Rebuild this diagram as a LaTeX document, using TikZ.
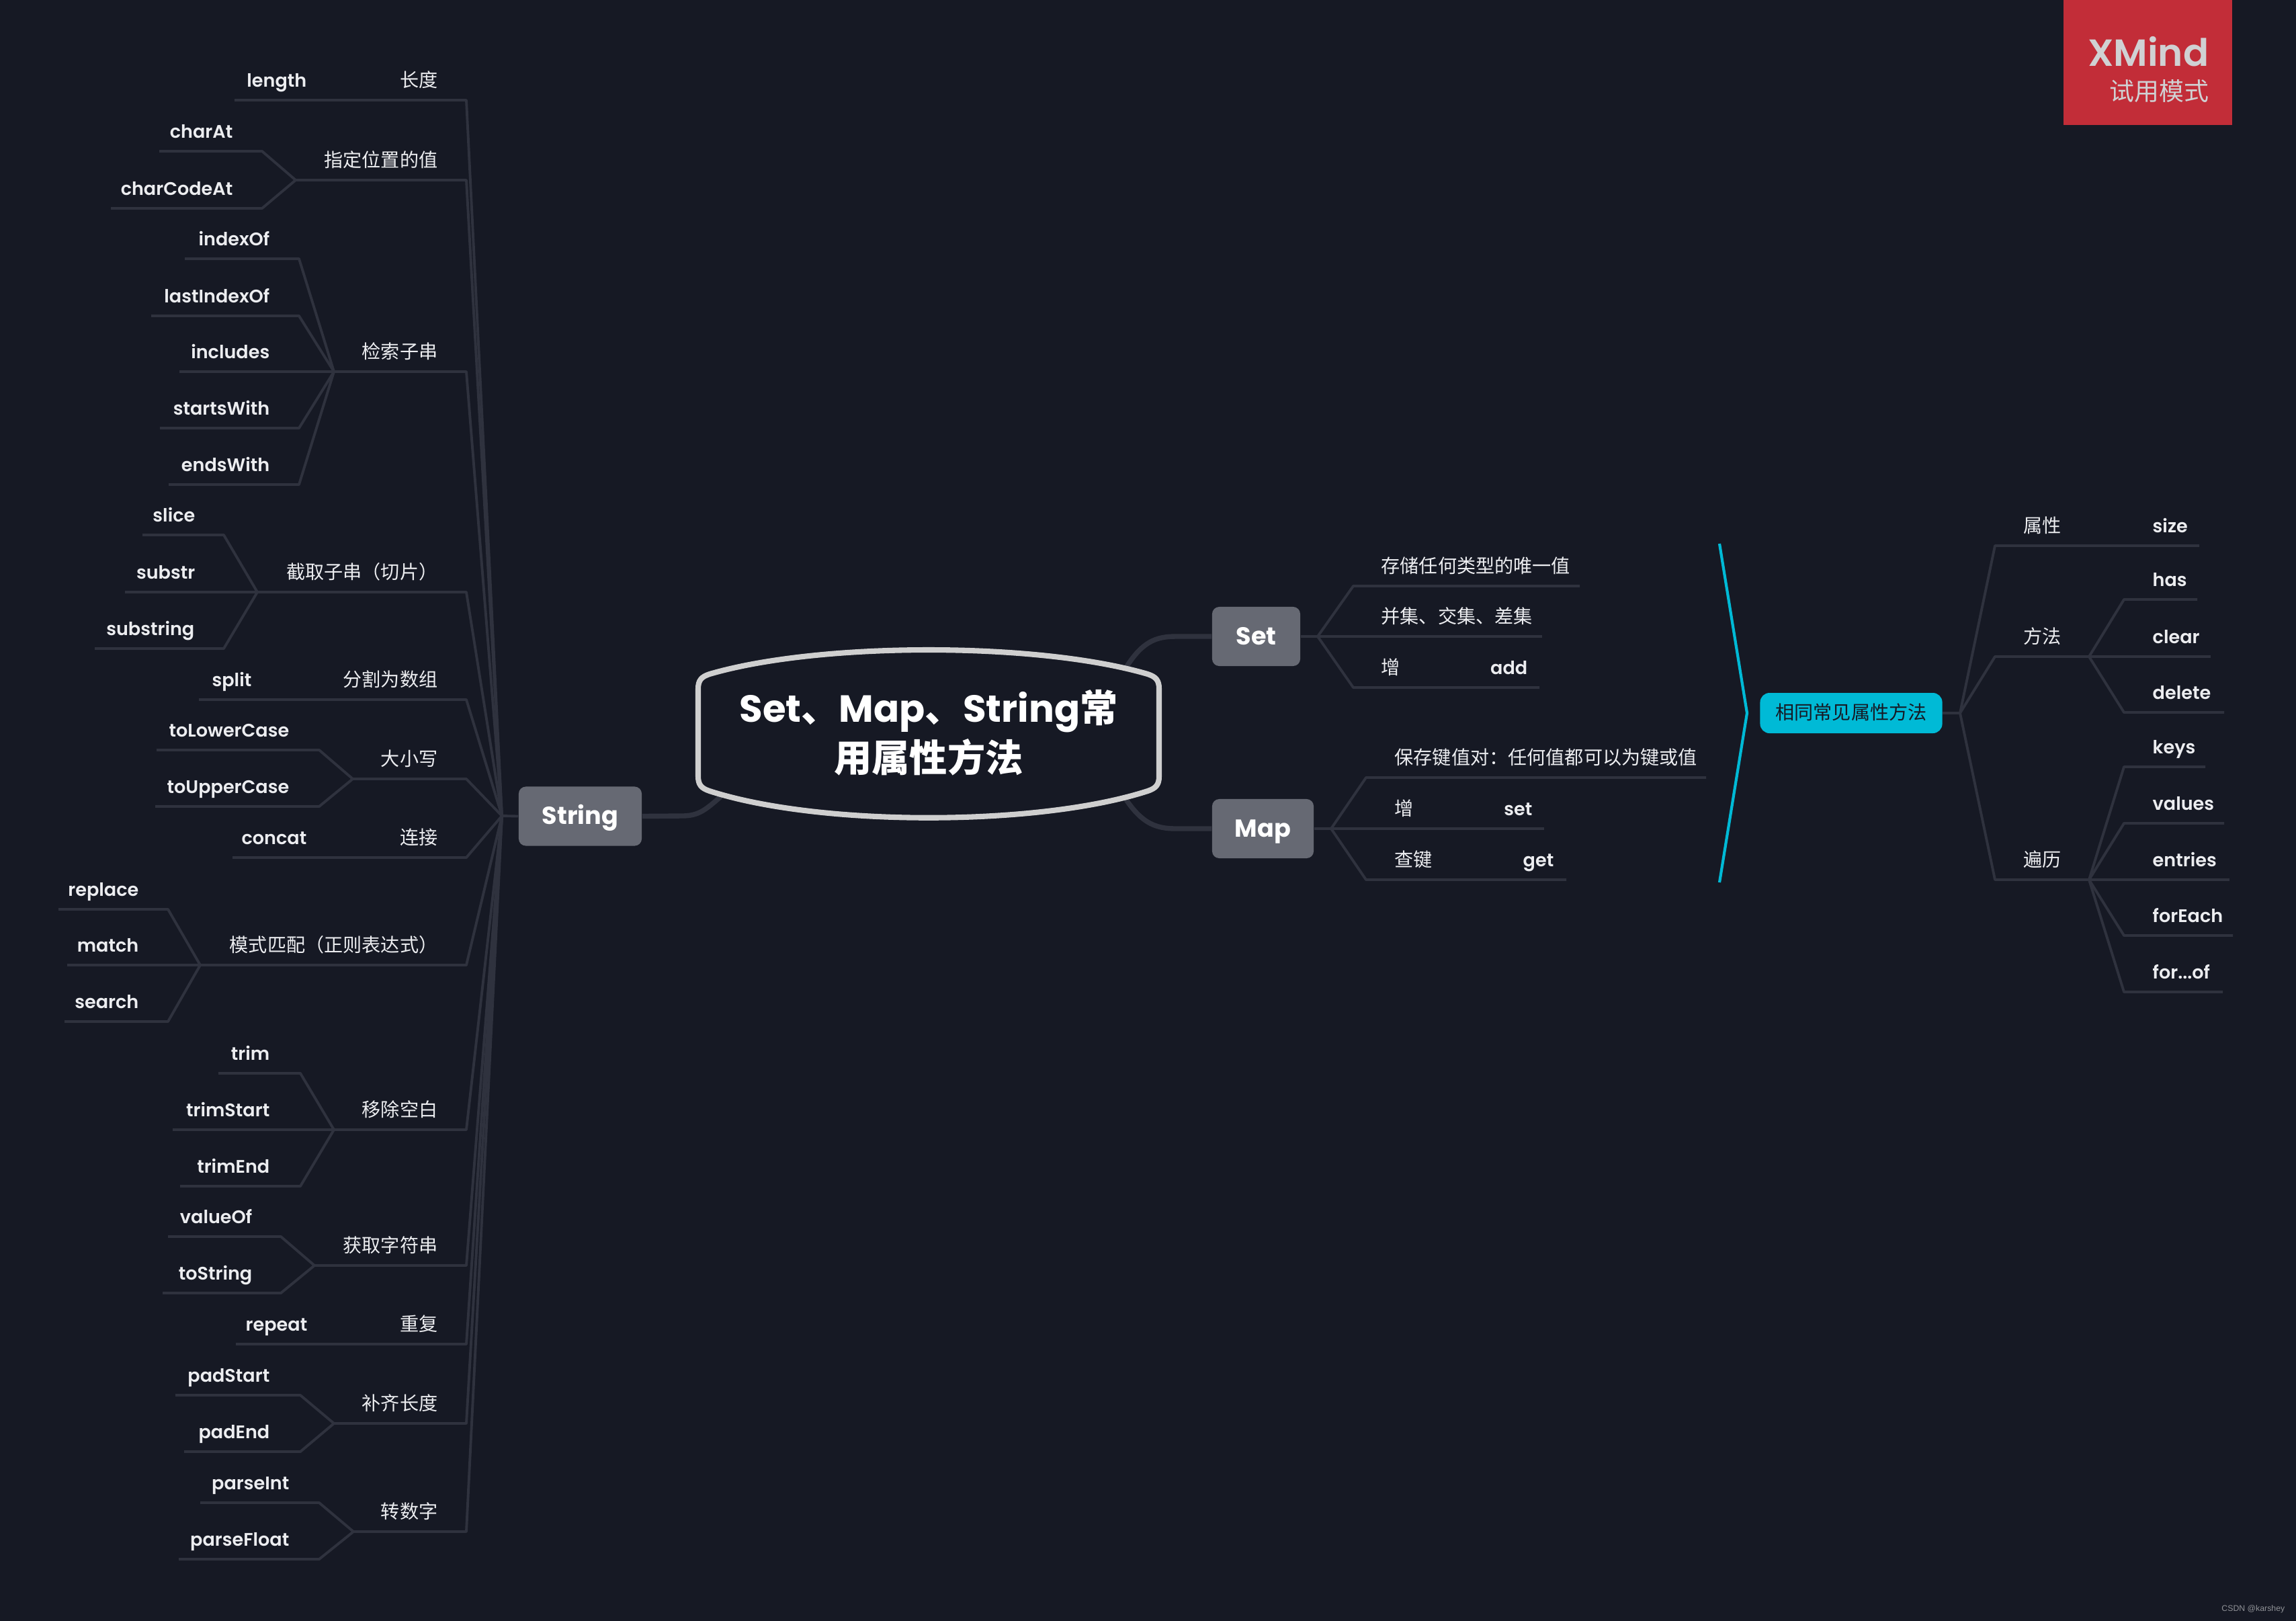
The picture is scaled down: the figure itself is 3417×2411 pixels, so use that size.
\documentclass[tikz,border=0pt]{standalone}
\usepackage{fontspec}
\usetikzlibrary{positioning, calc}
\newfontfamily\enfont{Poppins}[UprightFont=* SemiBold, BoldFont=* Bold]
\newfontfamily\cnfont{Noto Sans CJK SC}
\newfontfamily\markfont{Liberation Sans}
\definecolor{mapdark}{HTML}{161924}
\definecolor{mapline}{HTML}{2F323E}
\definecolor{mapbox}{HTML}{666973}
\definecolor{mapteal}{HTML}{00BAD6}
\definecolor{mapred}{HTML}{C22D38}
\definecolor{mapcentre}{HTML}{CFCFCF}
\definecolor{textwhite}{HTML}{ECEDF0}
\definecolor{marktext}{HTML}{D0D1D3}
\newcommand{\forof}{for...of}

\begin{document}
\begin{tikzpicture}[
    x=0.01cm, y=-0.01cm,
    en/.style={font=\enfont\fontsize{7.7}{10}\selectfont, text=textwhite, inner sep=0pt, text height=0.26cm, text depth=0.03cm},
    cn/.style={font=\cnfont\fontsize{8}{10}\selectfont, text=textwhite, inner sep=0pt, text height=0.26cm, text depth=0.03cm},
    branch/.style={draw=mapline, line width=1.1pt, line join=round},
    trunk/.style={draw=mapline, line width=2.1pt},
    topicbox/.style={fill=mapbox, rounded corners=3pt, text=white, inner sep=0pt, minimum height=0.88cm, text height=0.32cm, text depth=0.08cm,
                     font=\enfont\bfseries\fontsize{10.4}{12}\selectfont},
]

% Background
\useasboundingbox (0,0) rectangle (3417,2411);
\fill[mapdark] (-5,-5) rectangle (3422,2416);

% === Thick connectors from the centre ===
\coordinate (cString) at (1073,1185);
\coordinate (cSet) at (1676,993);
\coordinate (cMap) at (1676,1190);

\node[topicbox, minimum width=1.83cm] (String) at (863.5,1214.5) {String};
\node[topicbox, minimum width=1.31cm] (Set) at (1869.5,947) {Set};
\node[topicbox, minimum width=1.51cm] (Map) at (1879.5,1233) {Map};

\draw[trunk] (cString) .. controls (1050,1205) and (1040,1214) .. (1015,1214) -- (String.east);
\draw[trunk] (cSet) .. controls (1700,955) and (1720,947) .. (1750,947) -- (Set.west);
\draw[trunk] (cMap) .. controls (1700,1225) and (1720,1233) .. (1750,1233) -- (Map.west);

% === Centre topic ===
\draw[draw=mapcentre, line width=2.3pt, fill=mapdark, line join=round] (1039,1025) .. controls (1039,1012) and (1044,1007) .. (1056,1003)
    .. controls (1220,955) and (1544,955) .. (1708,1003) .. controls (1720,1007) and (1725,1012) .. (1725,1025)
    -- (1725,1155) .. controls (1725,1168) and (1720,1173) .. (1708,1177)
    .. controls (1544,1230) and (1220,1230) .. (1056,1177) .. controls (1044,1173) and (1039,1168) .. (1039,1155) -- cycle;
\node[text=white, align=center, inner sep=0pt, font=\fontsize{16}{21}\selectfont] (centre) at (1382,1090)
    {{\enfont\bfseries Set}{\cnfont\bfseries 、}{\enfont\bfseries Map}{\cnfont\bfseries 、}{\enfont\bfseries String}{\cnfont\bfseries 常}\\
     {\cnfont\bfseries 用属性方法}};

% === String side ===
\coordinate (hubS) at (747,1214);
\draw[branch] (hubS) -- (String.west);

\foreach \nm/\txt/\y/\xh in {tlen/长度/118/349, tpos/指定位置的值/237/440, tfind/检索子串/522/497,
    tcut/截取子串（切片）/850/383, tsplit/分割为数组/1010/296, tcase/大小写/1128/525, tjoin/连接/1245/346,
    tmatch/模式匹配（正则表达式）/1405/298, ttrim/移除空白/1650/497, tstr/获取字符串/1852/468,
    trep/重复/1969/351, tpad/补齐长度/2087/497, tnum/转数字/2248/526} {
    \node[cn, anchor=east] (\nm) at (652,\y) {\txt};
    \coordinate (\nm-elb) at (694,\y+31);
    \coordinate (\nm-end) at (\xh,\y+31);
    \draw[branch] (hubS) -- (\nm-elb) -- (\nm-end);
}

% Texts that sit on the line of their parent
\foreach \nm/\txt/\xr/\y in {flen/length/457/118, fsplit/split/375/1010, fconcat/concat/457/1245, frepeat/repeat/458/1969} {
    \node[en, anchor=east] (\nm) at (\xr,\y) {\txt};
}

% Leaves: parent, name, text, right end of text, y, elbow, left end
\foreach \pa/\nm/\txt/\xr/\y/\xe/\xl in {
    tpos/charAt/charAt/347/194/390/237, tpos/charCodeAt/charCodeAt/347/279/390/165,
    tfind/indexOf/indexOf/402/354/445/275, tfind/lastIndexOf/lastIndexOf/402/439/445/225,
    tfind/includes/includes/402/522/497/267, tfind/startsWith/startsWith/402/606/445/238,
    tfind/endsWith/endsWith/402/690/445/251,
    tcut/slice/slice/291/765/333/212, tcut/substr/substr/291/850/383/186, tcut/substring/substring/290/934/333/141,
    tcase/toLowerCase/toLowerCase/431/1085/475/233, tcase/toUpperCase/toUpperCase/431/1169/475/231,
    tmatch/replace/replace/207/1322/250/87, tmatch/match/match/207/1405/298/100, tmatch/search/search/207/1489/250/96,
    ttrim/trim/trim/402/1566/447/325, ttrim/trimStart/trimStart/402/1650/497/257, ttrim/trimEnd/trimEnd/402/1734/447/268,
    tstr/valueOf/valueOf/376/1809/418/250, tstr/toString/toString/376/1893/418/242,
    tpad/padStart/padStart/402/2045/447/261, tpad/padEnd/padEnd/402/2129/447/274,
    tnum/parseInt/parseInt/431/2205/475/298, tnum/parseFloat/parseFloat/431/2289/475/266} {
    \node[en, anchor=east] (\nm) at (\xr,\y) {\txt};
    \coordinate (\nm-elb) at (\xe,\y+31);
    \coordinate (\nm-end) at (\xl,\y+31);
    \draw[branch] (\pa-end) -- (\nm-elb) -- (\nm-end);
}

% === Set and Map ===
\coordinate (hubSet) at (1961,947);
\coordinate (hubMap) at (1981,1233);
\draw[branch] (Set.east) -- (hubSet);
\draw[branch] (Map.east) -- (hubMap);

\foreach \pa/\nm/\txt/\xt/\y/\xe/\xl in {
    hubSet/sunique/存储任何类型的唯一值/2055/841/2014/2351, hubSet/sunion/并集、交集、差集/2055/916/1961/2295,
    hubSet/sadd/增/2055/992/2014/2291,
    hubMap/mpair/保存键值对：任何值都可以为键或值/2075/1126/2033/2539, hubMap/mset/增/2075/1202/1981/2298,
    hubMap/mget/查键/2075/1278/2033/2331} {
    \node[cn, anchor=west] (\nm) at (\xt,\y) {\txt};
    \coordinate (\nm-elb) at (\xe,\y+31);
    \coordinate (\nm-end) at (\xl,\y+31);
    \draw[branch] (\pa) -- (\nm-elb) -- (\nm-end);
}
\node[en, anchor=east] (addtxt) at (2274,992) {add};
\node[en, anchor=east] (settxt) at (2281,1202) {set};
\node[en, anchor=east] (gettxt) at (2313,1278) {get};

% === Summary ===
\coordinate (brTop) at (2559,809);
\coordinate (brTip) at (2600,1061);
\coordinate (brBot) at (2559,1313);
\draw[draw=mapteal, line width=1.2pt, line join=round] (brTop) -- (brTip) -- (brBot);
\node[fill=mapteal, rounded corners=4pt, minimum width=2.71cm, minimum height=0.6cm, inner sep=0pt, text=mapdark, text height=0.22cm, text depth=0.03cm,
      font=\cnfont\fontsize{8}{10}\selectfont] (common) at (2755,1061) {相同常见属性方法};

\coordinate (hubC) at (2917,1061);
\draw[branch] (common.east) -- (hubC);
\foreach \nm/\txt/\y/\xh in {cattr/属性/781/3273, cmeth/方法/946/3109, cloop/遍历/1278/3109} {
    \node[cn, anchor=west] (\nm) at (3011,\y) {\txt};
    \coordinate (\nm-elb) at (2969,\y+31);
    \coordinate (\nm-end) at (\xh,\y+31);
    \draw[branch] (hubC) -- (\nm-elb) -- (\nm-end);
}
\node[en, anchor=west] (size) at (3203,781) {size};

\foreach \pa/\nm/\txt/\y/\xe/\xl in {
    cmeth/has/has/861/3161/3270, cmeth/clear/clear/946/3109/3290, cmeth/delete/delete/1029/3161/3310,
    cloop/keys/keys/1110/3161/3282, cloop/values/values/1194/3161/3310, cloop/entries/entries/1278/3109/3318,
    cloop/forEach/forEach/1361/3161/3323, cloop/forof/\forof/1445/3161/3308} {
    \node[en, anchor=west] (\nm) at (3203,\y) {\txt};
    \coordinate (\nm-elb) at (\xe,\y+31);
    \coordinate (\nm-end) at (\xl,\y+31);
    \draw[branch] (\pa-end) -- (\nm-elb) -- (\nm-end);
}

% === Trial badge ===
\fill[mapred] (3071,-5) rectangle (3322,186);
\node[anchor=east, inner sep=0pt, text=marktext, font=\enfont\fontsize{16}{20}\selectfont] (xmind) at (3288,77) {XMind};
\node[anchor=east, inner sep=0pt, text=marktext, font=\cnfont\fontsize{10.5}{12}\selectfont] (trial) at (3288,136) {试用模式};

% Watermark
\node[anchor=east, inner sep=0pt, text=white!52!mapdark, font=\markfont\fontsize{3.5}{4}\selectfont] (csdn) at (3401,2394) {CSDN @karshey};

\end{tikzpicture}
\end{document}
